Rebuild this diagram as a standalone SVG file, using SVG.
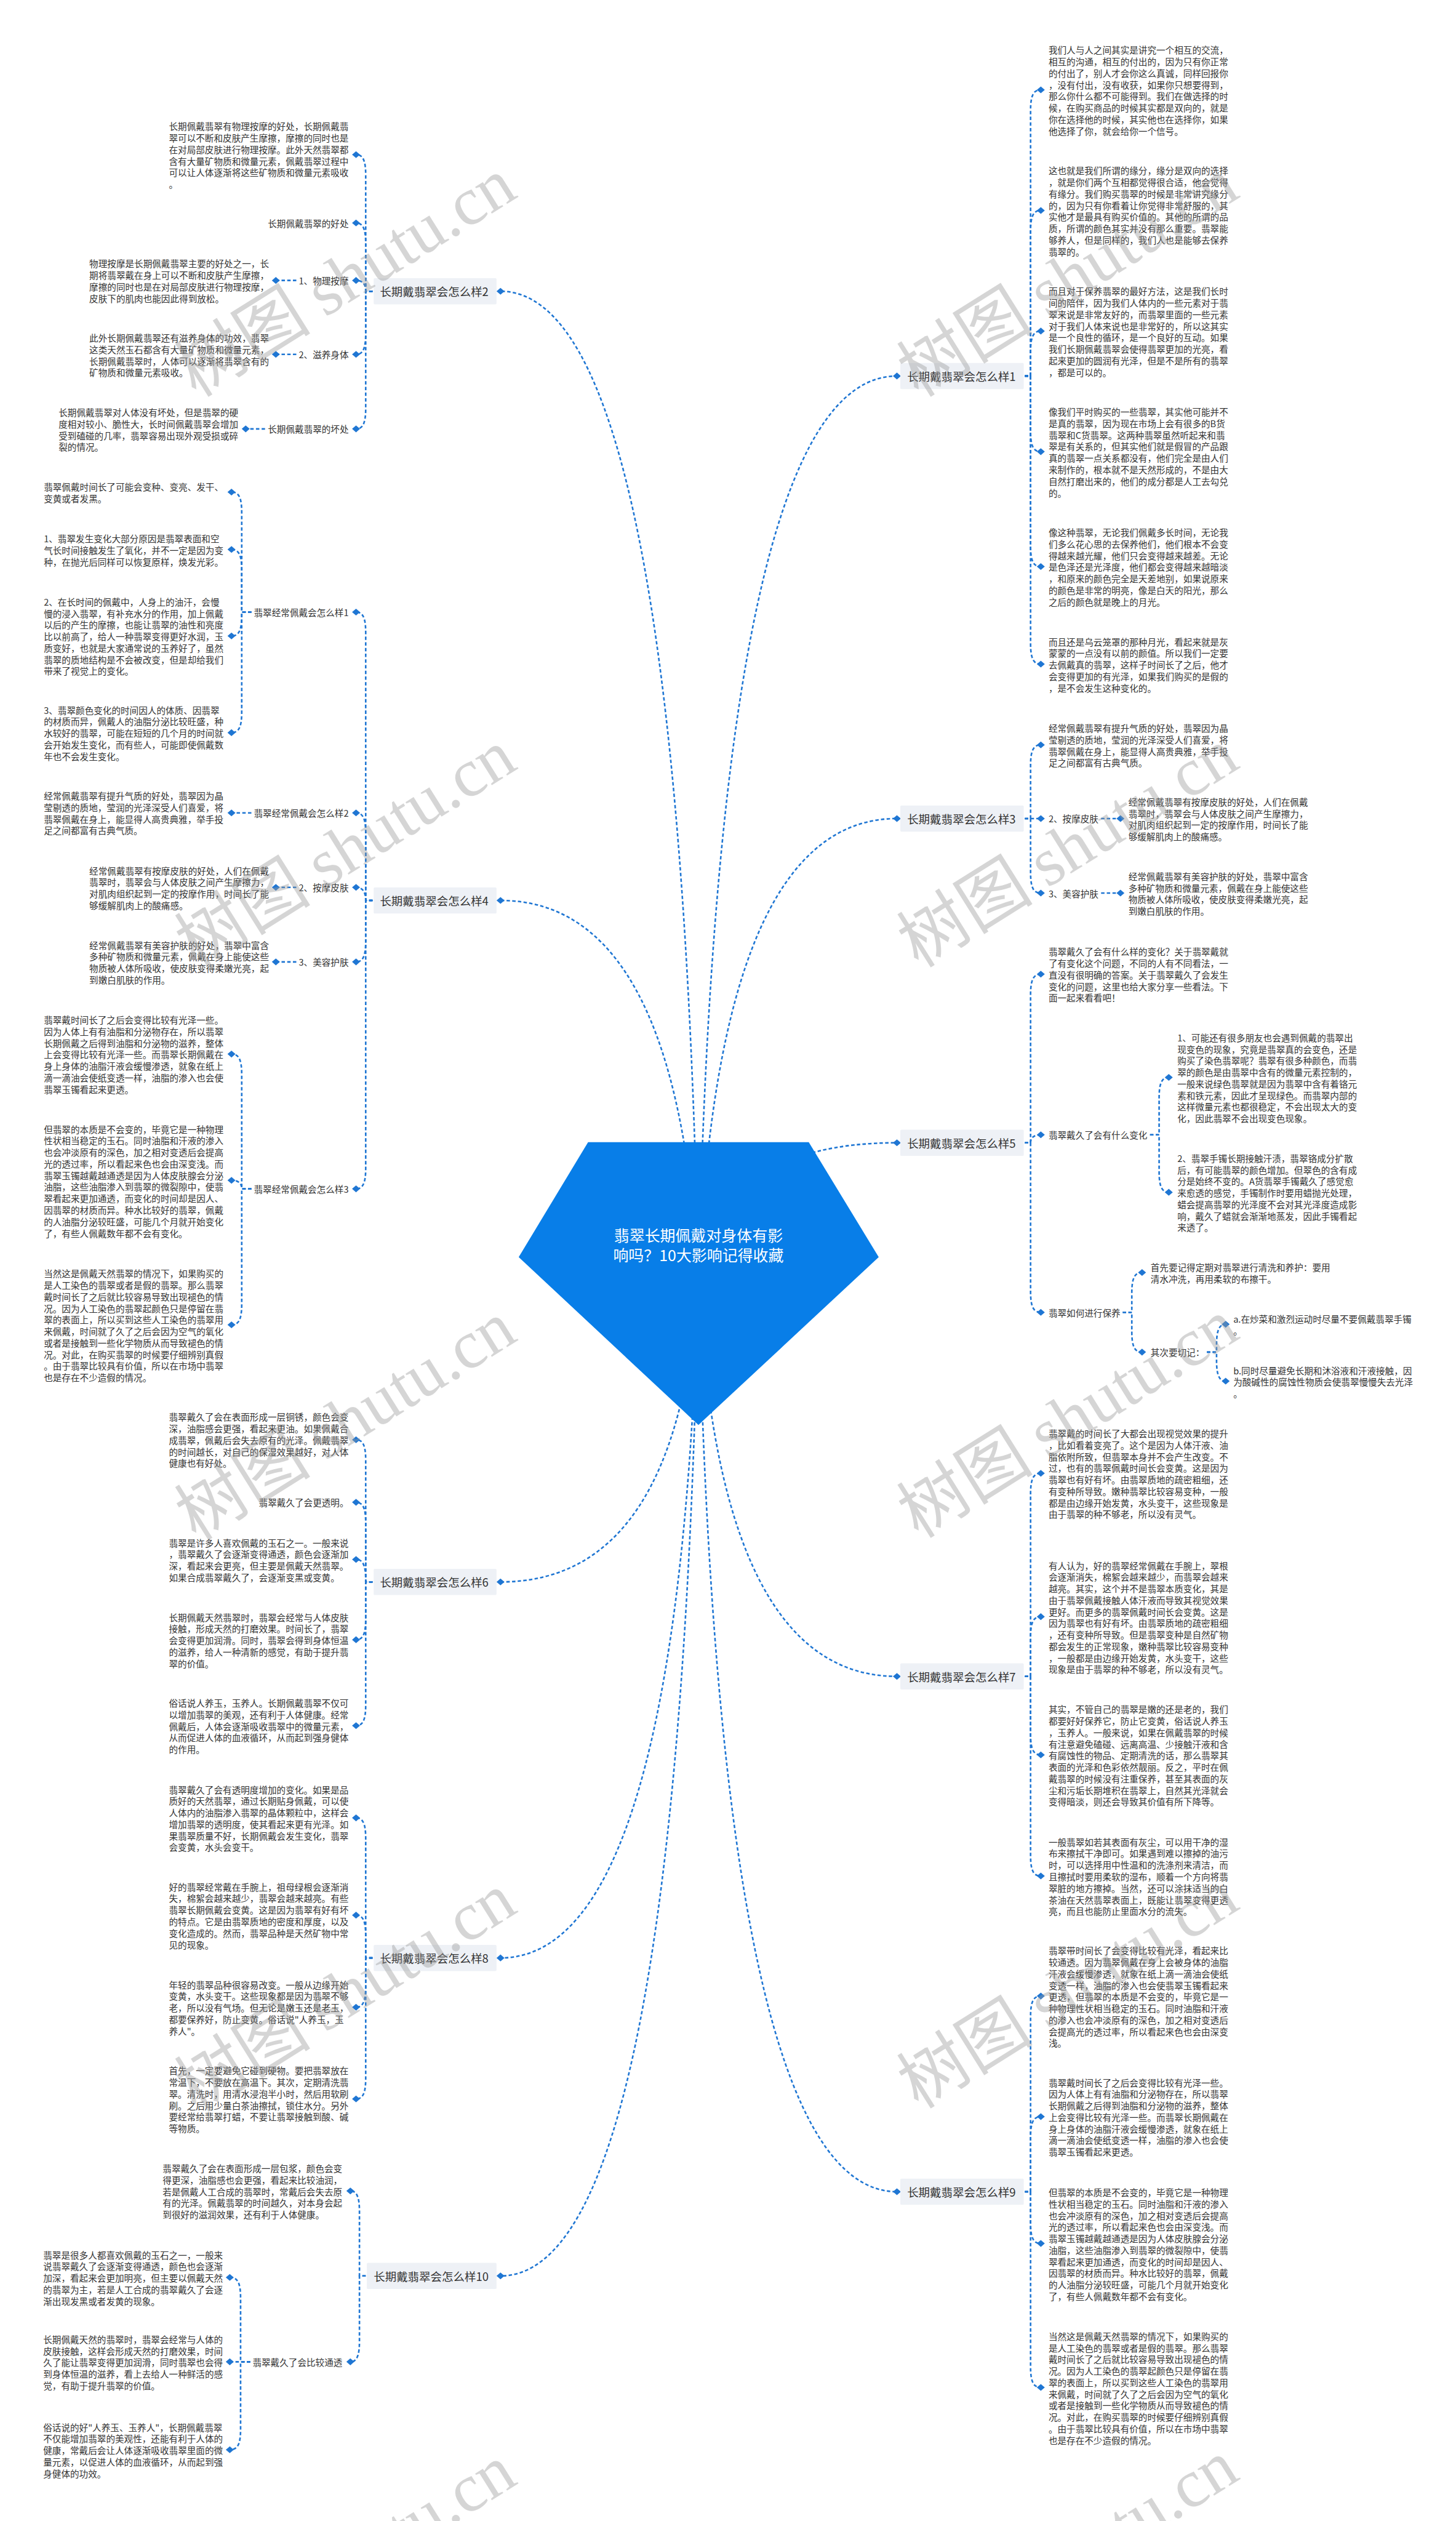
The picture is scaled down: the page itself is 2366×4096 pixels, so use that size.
<svg xmlns="http://www.w3.org/2000/svg" xmlns:xlink="http://www.w3.org/1999/xlink" width="2366" height="4096" viewBox="0 0 2366 4096">
<style>
text{font-family:'Noto Sans CJK SC','Noto Sans',sans-serif;dominant-baseline:central;fill:#333}
.t{font-size:15.8px}
.l1{font-size:20px}
.e{text-anchor:end}
.root{font-size:27px;fill:#fff;text-anchor:middle}
.c{fill:none;stroke:#1f76d3;stroke-width:2.8;stroke-dasharray:6 4}
.bg{fill:#eef1f6}
.wm{fill:#999;opacity:.4;font-size:120px;dominant-baseline:alphabetic}
</style>
<defs><path id="dm" d="M-7 0L0-6L7 0L0 6Z" fill="#1f76d3"/></defs>
<rect width="2366" height="4096" fill="#fff"/>
<g transform="scale(0.92422)">
<g id="connectors">
<path class="c" d="M1228 2250Q1263 661 1577 661"/>
<path class="c" d="M1228 2250Q1193 512 880 512"/>
<path class="c" d="M1228 2250Q1263 1439 1577 1439"/>
<path class="c" d="M1228 2250Q1193 1583 880 1583"/>
<path class="c" d="M1228 2250Q1263 2009 1577 2009"/>
<path class="c" d="M1228 2250Q1193 2781 880 2781"/>
<path class="c" d="M1228 2250Q1263 2947 1577 2947"/>
<path class="c" d="M1228 2250Q1193 3442 880 3442"/>
<path class="c" d="M1228 2250Q1263 3853 1577 3853"/>
<path class="c" d="M1228 2250Q1193 4001 880 4001"/>
<path class="c" d="M1802 661H1812V194C1812 166 1818 158 1830 158"/>
<path class="c" d="M1802 661H1812V406C1812 378 1818 370 1830 370"/>
<path class="c" d="M1802 661H1812V618C1812 590 1818 582 1830 582"/>
<path class="c" d="M1802 661H1812V758C1812 786 1818 794 1830 794"/>
<path class="c" d="M1802 661H1812V960C1812 988 1818 996 1830 996"/>
<path class="c" d="M1802 661H1812V1131.5C1812 1159.5 1818 1167.5 1830 1167.5"/>
<path class="c" d="M1802 1439H1812V1345.5C1812 1317.5 1818 1309.5 1830 1309.5"/>
<path class="c" d="M1802 1439H1830"/>
<path class="c" d="M1802 1439H1812V1534C1812 1562 1818 1570 1830 1570"/>
<path class="c" d="M1936 1439H1970"/>
<path class="c" d="M1936 1570H1970"/>
<path class="c" d="M1802 2009H1812V1748.6C1812 1720.6 1818 1712.6 1830 1712.6"/>
<path class="c" d="M1802 2009H1812Q1812 1995 1830 1995"/>
<path class="c" d="M1802 2009H1812V2271C1812 2299 1818 2307 1830 2307"/>
<path class="c" d="M2022 1995H2038V1930C2038 1902 2044 1894 2055 1894"/>
<path class="c" d="M2022 1995H2038V2060C2038 2088 2044 2096 2055 2096"/>
<path class="c" d="M1974 2307H1990V2273C1990 2245 1996 2237 2008 2237"/>
<path class="c" d="M1974 2307H1990V2341C1990 2369 1996 2377 2008 2377"/>
<path class="c" d="M2122 2377H2139V2364C2139 2336 2145 2328 2155 2328"/>
<path class="c" d="M2122 2377H2139V2392C2139 2420 2145 2428 2155 2428"/>
<path class="c" d="M1802 2947H1812V2626C1812 2598 1818 2590 1830 2590"/>
<path class="c" d="M1802 2947H1812V2878C1812 2850 1818 2842 1830 2842"/>
<path class="c" d="M1802 2947H1812V3049C1812 3077 1818 3085 1830 3085"/>
<path class="c" d="M1802 2947H1812V3262C1812 3290 1818 3298 1830 3298"/>
<path class="c" d="M1802 3853H1812V3545C1812 3517 1818 3509 1830 3509"/>
<path class="c" d="M1802 3853H1812V3757C1812 3729 1818 3721 1830 3721"/>
<path class="c" d="M1802 3853H1812V3908C1812 3936 1818 3944 1830 3944"/>
<path class="c" d="M1802 3853H1812V4161C1812 4189 1818 4197 1830 4197"/>
<path class="c" d="M655 512H643V307.8C643 279.8 637 271.8 626 271.8"/>
<path class="c" d="M655 512H643V428C643 400 637 392 626 392"/>
<path class="c" d="M655 512H643Q643 493 626 493"/>
<path class="c" d="M655 512H643V587C643 615 637 623 626 623"/>
<path class="c" d="M655 512H643V718C643 746 637 754 626 754"/>
<path class="c" d="M521 493H485"/>
<path class="c" d="M521 623H485"/>
<path class="c" d="M466 754H432"/>
<path class="c" d="M655 1583H643V1112C643 1084 637 1076 626 1076"/>
<path class="c" d="M655 1583H643V1465C643 1437 637 1429 626 1429"/>
<path class="c" d="M655 1583H643Q643 1560 626 1560"/>
<path class="c" d="M655 1583H643V1655C643 1683 637 1691 626 1691"/>
<path class="c" d="M655 1583H643V2054C643 2082 637 2090 626 2090"/>
<path class="c" d="M442 1076H425V901C425 873 419 865 407 865"/>
<path class="c" d="M442 1076H425V1002C425 974 419 966 407 966"/>
<path class="c" d="M442 1076H425V1082C425 1110 419 1118 407 1118"/>
<path class="c" d="M442 1076H425V1252C425 1280 419 1288 407 1288"/>
<path class="c" d="M442 1429H407"/>
<path class="c" d="M521 1560H485"/>
<path class="c" d="M521 1691H485"/>
<path class="c" d="M442 2090H425V1889C425 1861 419 1853 407 1853"/>
<path class="c" d="M442 2090H425Q425 2075 407 2075"/>
<path class="c" d="M442 2090H425V2293C425 2321 419 2329 407 2329"/>
<path class="c" d="M655 2781H643V2567C643 2539 637 2531 626 2531"/>
<path class="c" d="M655 2781H643V2677C643 2649 637 2641 626 2641"/>
<path class="c" d="M655 2781H643V2777.5C643 2749.5 637 2741.5 626 2741.5"/>
<path class="c" d="M655 2781H643V2846.6C643 2874.6 637 2882.6 626 2882.6"/>
<path class="c" d="M655 2781H643V2997.6C643 3025.6 637 3033.6 626 3033.6"/>
<path class="c" d="M655 3442H643V3231.8C643 3203.8 637 3195.8 626 3195.8"/>
<path class="c" d="M655 3442H643V3402.8C643 3374.8 637 3366.8 626 3366.8"/>
<path class="c" d="M655 3442H643V3492.6C643 3520.6 637 3528.6 626 3528.6"/>
<path class="c" d="M655 3442H643V3653.8C643 3681.8 637 3689.8 626 3689.8"/>
<path class="c" d="M643 4001H632V3887.6C632 3859.6 626 3851.6 616 3851.6"/>
<path class="c" d="M643 4001H632V4116C632 4144 626 4152 616 4152"/>
<path class="c" d="M440 4152H423V4039.6C423 4011.6 417 4003.6 404 4003.6"/>
<path class="c" d="M440 4152H404"/>
<path class="c" d="M440 4152H423V4270.6C423 4298.6 417 4306.6 404 4306.6"/>
<use href="#dm" x="1577" y="661"/><use href="#dm" x="880" y="512"/><use href="#dm" x="1577" y="1439"/><use href="#dm" x="880" y="1583"/><use href="#dm" x="1577" y="2009"/><use href="#dm" x="880" y="2781"/><use href="#dm" x="1577" y="2947"/><use href="#dm" x="880" y="3442"/><use href="#dm" x="1577" y="3853"/><use href="#dm" x="880" y="4001"/>
<use href="#dm" x="1830" y="158"/><use href="#dm" x="1830" y="370"/><use href="#dm" x="1830" y="582"/><use href="#dm" x="1830" y="794"/><use href="#dm" x="1830" y="996"/><use href="#dm" x="1830" y="1167.5"/>
<use href="#dm" x="1830" y="1309.5"/><use href="#dm" x="1830" y="1439"/><use href="#dm" x="1830" y="1570"/><use href="#dm" x="1970" y="1439"/><use href="#dm" x="1970" y="1570"/>
<use href="#dm" x="1830" y="1712.6"/><use href="#dm" x="1830" y="1995"/><use href="#dm" x="1830" y="2307"/><use href="#dm" x="2055" y="1894"/><use href="#dm" x="2055" y="2096"/><use href="#dm" x="2008" y="2237"/><use href="#dm" x="2008" y="2377"/><use href="#dm" x="2155" y="2328"/><use href="#dm" x="2155" y="2428"/>
<use href="#dm" x="1830" y="2590"/><use href="#dm" x="1830" y="2842"/><use href="#dm" x="1830" y="3085"/><use href="#dm" x="1830" y="3298"/>
<use href="#dm" x="1830" y="3509"/><use href="#dm" x="1830" y="3721"/><use href="#dm" x="1830" y="3944"/><use href="#dm" x="1830" y="4197"/>
<use href="#dm" x="626" y="271.8"/><use href="#dm" x="626" y="392"/><use href="#dm" x="626" y="493"/><use href="#dm" x="626" y="623"/><use href="#dm" x="626" y="754"/><use href="#dm" x="485" y="493"/><use href="#dm" x="485" y="623"/><use href="#dm" x="432" y="754"/>
<use href="#dm" x="626" y="1076"/><use href="#dm" x="626" y="1429"/><use href="#dm" x="626" y="1560"/><use href="#dm" x="626" y="1691"/><use href="#dm" x="626" y="2090"/><use href="#dm" x="407" y="865"/><use href="#dm" x="407" y="966"/><use href="#dm" x="407" y="1118"/><use href="#dm" x="407" y="1288"/><use href="#dm" x="407" y="1429"/><use href="#dm" x="485" y="1560"/><use href="#dm" x="485" y="1691"/><use href="#dm" x="407" y="1853"/><use href="#dm" x="407" y="2075"/><use href="#dm" x="407" y="2329"/>
<use href="#dm" x="626" y="2531"/><use href="#dm" x="626" y="2641"/><use href="#dm" x="626" y="2741.5"/><use href="#dm" x="626" y="2882.6"/><use href="#dm" x="626" y="3033.6"/>
<use href="#dm" x="626" y="3195.8"/><use href="#dm" x="626" y="3366.8"/><use href="#dm" x="626" y="3528.6"/><use href="#dm" x="626" y="3689.8"/>
<use href="#dm" x="616" y="3851.6"/><use href="#dm" x="616" y="4152"/><use href="#dm" x="404" y="4003.6"/><use href="#dm" x="404" y="4152"/><use href="#dm" x="404" y="4306.6"/>
</g>
<g id="root">
<path d="M1034 2008H1422L1545 2210L1228 2505L912 2210Z" fill="#087ee8"/>
<text class="root" x="1228" y="2170">翡翠长期佩戴对身体有影</text>
<text class="root" x="1228" y="2205">响吗？10大影响记得收藏</text>
</g>
<g id="b1"><rect class="bg" x="1583" y="638" width="217" height="46" rx="2"/><text class="l1" x="1595" y="661">长期戴翡翠会怎么样1</text></g>
<g id="b2"><rect class="bg" x="657" y="489" width="216" height="46" rx="2"/><text class="l1" x="668" y="512">长期戴翡翠会怎么样2</text></g>
<g id="b3"><rect class="bg" x="1583" y="1416" width="217" height="46" rx="2"/><text class="l1" x="1595" y="1439">长期戴翡翠会怎么样3</text></g>
<g id="b4"><rect class="bg" x="657" y="1560" width="216" height="46" rx="2"/><text class="l1" x="668" y="1583">长期戴翡翠会怎么样4</text></g>
<g id="b5"><rect class="bg" x="1583" y="1986" width="217" height="46" rx="2"/><text class="l1" x="1595" y="2009">长期戴翡翠会怎么样5</text></g>
<g id="b6"><rect class="bg" x="657" y="2758" width="216" height="46" rx="2"/><text class="l1" x="668" y="2781">长期戴翡翠会怎么样6</text></g>
<g id="b7"><rect class="bg" x="1583" y="2924" width="217" height="46" rx="2"/><text class="l1" x="1595" y="2947">长期戴翡翠会怎么样7</text></g>
<g id="b8"><rect class="bg" x="657" y="3419" width="216" height="46" rx="2"/><text class="l1" x="668" y="3442">长期戴翡翠会怎么样8</text></g>
<g id="b9"><rect class="bg" x="1583" y="3830" width="217" height="46" rx="2"/><text class="l1" x="1595" y="3853">长期戴翡翠会怎么样9</text></g>
<g id="b10"><rect class="bg" x="645" y="3978" width="228" height="46" rx="2"/><text class="l1" x="657" y="4001">长期戴翡翠会怎么样10</text></g>

<g id="n1a"><text class="t" x="1843.6" y="87"><tspan x="1843.6">我们人与人之间其实是讲究一个相互的交流，</tspan><tspan x="1843.6" dy="20.3">相互的沟通，相互的付出的，因为只有你正常</tspan><tspan x="1843.6" dy="20.3">的付出了，别人才会你这么真诚，同样回报你</tspan><tspan x="1843.6" dy="20.3">，没有付出，没有收获，如果你只想要得到，</tspan><tspan x="1843.6" dy="20.3">那么你什么都不可能得到。我们在做选择的时</tspan><tspan x="1843.6" dy="20.3">候，在购买商品的时候其实都是双向的，就是</tspan><tspan x="1843.6" dy="20.3">你在选择他的时候，其实他也在选择你，如果</tspan><tspan x="1843.6" dy="20.3">他选择了你，就会给你一个信号。</tspan></text></g>
<g id="n1b"><text class="t" x="1843.6" y="299"><tspan x="1843.6">这也就是我们所谓的缘分，缘分是双向的选择</tspan><tspan x="1843.6" dy="20.3">，就是你们两个互相都觉得很合适，他会觉得</tspan><tspan x="1843.6" dy="20.3">有缘分。我们购买翡翠的时候是非常讲究缘分</tspan><tspan x="1843.6" dy="20.3">的，因为只有你看着让你觉得非常舒服的，其</tspan><tspan x="1843.6" dy="20.3">实他才是最具有购买价值的。其他的所谓的品</tspan><tspan x="1843.6" dy="20.3">质，所谓的颜色其实并没有那么重要。翡翠能</tspan><tspan x="1843.6" dy="20.3">够养人，但是同样的，我们人也是能够去保养</tspan><tspan x="1843.6" dy="20.3">翡翠的。</tspan></text></g>
<g id="n1c"><text class="t" x="1843.6" y="511"><tspan x="1843.6">而且对于保养翡翠的最好方法，这是我们长时</tspan><tspan x="1843.6" dy="20.3">间的陪伴，因为我们人体内的一些元素对于翡</tspan><tspan x="1843.6" dy="20.3">翠来说是非常友好的，而翡翠里面的一些元素</tspan><tspan x="1843.6" dy="20.3">对于我们人体来说也是非常好的，所以这其实</tspan><tspan x="1843.6" dy="20.3">是一个良性的循环，是一个良好的互动。如果</tspan><tspan x="1843.6" dy="20.3">我们长期佩戴翡翠会使得翡翠更加的光亮，看</tspan><tspan x="1843.6" dy="20.3">起来更加的圆润有光泽，但是不是所有的翡翠</tspan><tspan x="1843.6" dy="20.3">，都是可以的。</tspan></text></g>
<g id="n1d"><text class="t" x="1843.6" y="723"><tspan x="1843.6">像我们平时购买的一些翡翠，其实他可能并不</tspan><tspan x="1843.6" dy="20.3">是真的翡翠，因为现在市场上会有很多的B货</tspan><tspan x="1843.6" dy="20.3">翡翠和C货翡翠。这两种翡翠虽然听起来和翡</tspan><tspan x="1843.6" dy="20.3">翠是有关系的，但其实他们就是假冒的产品跟</tspan><tspan x="1843.6" dy="20.3">真的翡翠一点关系都没有，他们完全是由人们</tspan><tspan x="1843.6" dy="20.3">来制作的，根本就不是天然形成的，不是由大</tspan><tspan x="1843.6" dy="20.3">自然打磨出来的，他们的成分都是人工去勾兑</tspan><tspan x="1843.6" dy="20.3">的。</tspan></text></g>
<g id="n1e"><text class="t" x="1843.6" y="935"><tspan x="1843.6">像这种翡翠，无论我们佩戴多长时间，无论我</tspan><tspan x="1843.6" dy="20.3">们多么花心思的去保养他们，他们根本不会变</tspan><tspan x="1843.6" dy="20.3">得越来越光耀，他们只会变得越来越差。无论</tspan><tspan x="1843.6" dy="20.3">是色泽还是光泽度，他们都会变得越来越暗淡</tspan><tspan x="1843.6" dy="20.3">，和原来的颜色完全是天差地别，如果说原来</tspan><tspan x="1843.6" dy="20.3">的颜色是非常的明亮，像是白天的阳光，那么</tspan><tspan x="1843.6" dy="20.3">之后的颜色就是晚上的月光。</tspan></text></g>
<g id="n1f"><text class="t" x="1843.6" y="1127"><tspan x="1843.6">而且还是乌云笼罩的那种月光，看起来就是灰</tspan><tspan x="1843.6" dy="20.3">蒙蒙的一点没有以前的颜值。所以我们一定要</tspan><tspan x="1843.6" dy="20.3">去佩戴真的翡翠，这样子时间长了之后，他才</tspan><tspan x="1843.6" dy="20.3">会变得更加的有光泽，如果我们购买的是假的</tspan><tspan x="1843.6" dy="20.3">，是不会发生这种变化的。</tspan></text></g>

<g id="n3a"><text class="t" x="1843.6" y="1279"><tspan x="1843.6">经常佩戴翡翠有提升气质的好处，翡翠因为晶</tspan><tspan x="1843.6" dy="20.3">莹剔透的质地，莹润的光泽深受人们喜爱，将</tspan><tspan x="1843.6" dy="20.3">翡翠佩戴在身上，能显得人高贵典雅，举手投</tspan><tspan x="1843.6" dy="20.3">足之间都富有古典气质。</tspan></text></g>
<g id="n3b"><text class="t" x="1843.6" y="1439">2、按摩皮肤</text></g>
<g id="n3b1"><text class="t" x="1984" y="1408.5"><tspan x="1984">经常佩戴翡翠有按摩皮肤的好处，人们在佩戴</tspan><tspan x="1984" dy="20.3">翡翠时，翡翠会与人体皮肤之间产生摩擦力，</tspan><tspan x="1984" dy="20.3">对肌肉组织起到一定的按摩作用，时间长了能</tspan><tspan x="1984" dy="20.3">够缓解肌肉上的酸痛感。</tspan></text></g>
<g id="n3c"><text class="t" x="1843.6" y="1570">3、美容护肤</text></g>
<g id="n3c1"><text class="t" x="1984" y="1539.5"><tspan x="1984">经常佩戴翡翠有美容护肤的好处，翡翠中富含</tspan><tspan x="1984" dy="20.3">多种矿物质和微量元素，佩戴在身上能使这些</tspan><tspan x="1984" dy="20.3">物质被人体所吸收，使皮肤变得柔嫩光亮，起</tspan><tspan x="1984" dy="20.3">到嫩白肌肤的作用。</tspan></text></g>

<g id="n5a"><text class="t" x="1843.6" y="1672"><tspan x="1843.6">翡翠戴久了会有什么样的变化？关于翡翠戴就</tspan><tspan x="1843.6" dy="20.3">了有变化这个问题，不同的人有不同看法，一</tspan><tspan x="1843.6" dy="20.3">直没有很明确的答案。关于翡翠戴久了会发生</tspan><tspan x="1843.6" dy="20.3">变化的问题，这里也给大家分享一些看法。下</tspan><tspan x="1843.6" dy="20.3">面一起来看看吧！</tspan></text></g>
<g id="n5b"><text class="t" x="1843.6" y="1995">翡翠戴久了会有什么变化</text></g>
<g id="n5b1"><text class="t" x="2070" y="1823"><tspan x="2070">1、可能还有很多朋友也会遇到佩戴的翡翠出</tspan><tspan x="2070" dy="20.3">现变色的现象，究竟是翡翠真的会变色，还是</tspan><tspan x="2070" dy="20.3">购买了染色翡翠呢？翡翠有很多种颜色，而翡</tspan><tspan x="2070" dy="20.3">翠的颜色是由翡翠中含有的微量元素控制的，</tspan><tspan x="2070" dy="20.3">一般来说绿色翡翠就是因为翡翠中含有着铬元</tspan><tspan x="2070" dy="20.3">素和铁元素，因此才呈现绿色。而翡翠内部的</tspan><tspan x="2070" dy="20.3">这样微量元素也都很稳定，不会出现太大的变</tspan><tspan x="2070" dy="20.3">化，因此翡翠不会出现变色现象。</tspan></text></g>
<g id="n5b2"><text class="t" x="2070" y="2035"><tspan x="2070">2、翡翠手镯长期接触汗渍，翡翠铬成分扩散</tspan><tspan x="2070" dy="20.3">后，有可能翡翠的颜色增加。但翠色的含有成</tspan><tspan x="2070" dy="20.3">分是始终不变的。A货翡翠手镯戴久了感觉愈</tspan><tspan x="2070" dy="20.3">来愈透的感觉，手镯制作时要用蜡抛光处理，</tspan><tspan x="2070" dy="20.3">蜡会提高翡翠的光泽度不会对其光泽度造成影</tspan><tspan x="2070" dy="20.3">响，戴久了蜡就会渐渐地蒸发，因此手镯看起</tspan><tspan x="2070" dy="20.3">来透了。</tspan></text></g>
<g id="n5c"><text class="t" x="1843.6" y="2307">翡翠如何进行保养</text></g>
<g id="n5c1"><text class="t" x="2023" y="2227"><tspan x="2023">首先要记得定期对翡翠进行清洗和养护：要用</tspan><tspan x="2023" dy="20.3">清水冲洗，再用柔软的布擦干。</tspan></text></g>
<g id="n5c2"><text class="t" x="2023" y="2377">其次要切记：</text></g>
<g id="n5c2a"><text class="t" x="2168.5" y="2318"><tspan x="2168.5">a.在炒菜和激烈运动时尽量不要佩戴翡翠手镯</tspan><tspan x="2168.5" dy="20.3">。</tspan></text></g>
<g id="n5c2b"><text class="t" x="2168.5" y="2408"><tspan x="2168.5">b.同时尽量避免长期和沐浴液和汗液接触，因</tspan><tspan x="2168.5" dy="20.3">为酸碱性的腐蚀性物质会使翡翠慢慢失去光泽</tspan><tspan x="2168.5" dy="20.3">。</tspan></text></g>

<g id="n7a"><text class="t" x="1843.6" y="2519"><tspan x="1843.6">翡翠戴的时间长了大都会出现视觉效果的提升</tspan><tspan x="1843.6" dy="20.3">，比如看着变亮了。这个是因为人体汗液、油</tspan><tspan x="1843.6" dy="20.3">脂依附所致，但翡翠本身并不会产生改变。不</tspan><tspan x="1843.6" dy="20.3">过，也有的翡翠佩戴时间长会变黄。这是因为</tspan><tspan x="1843.6" dy="20.3">翡翠也有好有坏。由翡翠质地的疏密粗细，还</tspan><tspan x="1843.6" dy="20.3">有变种所导致。嫩种翡翠比较容易变种，一般</tspan><tspan x="1843.6" dy="20.3">都是由边缘开始发黄，水头变干，这些现象是</tspan><tspan x="1843.6" dy="20.3">由于翡翠的种不够老，所以没有灵气。</tspan></text></g>
<g id="n7b"><text class="t" x="1843.6" y="2751"><tspan x="1843.6">有人认为，好的翡翠经常佩戴在手腕上，翠根</tspan><tspan x="1843.6" dy="20.3">会逐渐消失，棉絮会越来越少，而翡翠会越来</tspan><tspan x="1843.6" dy="20.3">越亮。其实，这个并不是翡翠本质变化，其是</tspan><tspan x="1843.6" dy="20.3">由于翡翠佩戴接触人体汗液而导致其视觉效果</tspan><tspan x="1843.6" dy="20.3">更好。而更多的翡翠佩戴时间长会变黄。这是</tspan><tspan x="1843.6" dy="20.3">因为翡翠也有好有坏。由翡翠质地的疏密粗细</tspan><tspan x="1843.6" dy="20.3">，还有变种所导致。但是翡翠变种是自然矿物</tspan><tspan x="1843.6" dy="20.3">都会发生的正常现象，嫩种翡翠比较容易变种</tspan><tspan x="1843.6" dy="20.3">，一般都是由边缘开始发黄，水头变干，这些</tspan><tspan x="1843.6" dy="20.3">现象是由于翡翠的种不够老，所以没有灵气。</tspan></text></g>
<g id="n7c"><text class="t" x="1843.6" y="3004"><tspan x="1843.6">其实，不管自己的翡翠是嫩的还是老的，我们</tspan><tspan x="1843.6" dy="20.3">都要好好保养它，防止它变黄，俗话说人养玉</tspan><tspan x="1843.6" dy="20.3">，玉养人。一般来说，如果在佩戴翡翠的时候</tspan><tspan x="1843.6" dy="20.3">有注意避免磕碰、远离高温、少接触汗液和含</tspan><tspan x="1843.6" dy="20.3">有腐蚀性的物品、定期清洗的话，那么翡翠其</tspan><tspan x="1843.6" dy="20.3">表面的光泽和色彩依然靓丽。反之，平时在佩</tspan><tspan x="1843.6" dy="20.3">戴翡翠的时候没有注重保养，甚至其表面的灰</tspan><tspan x="1843.6" dy="20.3">尘和污垢长期堆积在翡翠上，自然其光泽就会</tspan><tspan x="1843.6" dy="20.3">变得暗淡，则还会导致其价值有所下降等。</tspan></text></g>
<g id="n7d"><text class="t" x="1843.6" y="3237"><tspan x="1843.6">一般翡翠如若其表面有灰尘，可以用干净的湿</tspan><tspan x="1843.6" dy="20.3">布来擦拭干净即可。如果遇到难以擦掉的油污</tspan><tspan x="1843.6" dy="20.3">时，可以选择用中性温和的洗涤剂来清洁，而</tspan><tspan x="1843.6" dy="20.3">且擦拭时要用柔软的湿布，顺着一个方向将翡</tspan><tspan x="1843.6" dy="20.3">翠脏的地方擦掉。当然，还可以涂抹适当的白</tspan><tspan x="1843.6" dy="20.3">茶油在天然翡翠表面上，既能让翡翠变得更透</tspan><tspan x="1843.6" dy="20.3">亮，而且也能防止里面水分的流失。</tspan></text></g>

<g id="n9a"><text class="t" x="1843.6" y="3428"><tspan x="1843.6">翡翠带时间长了会变得比较有光泽，看起来比</tspan><tspan x="1843.6" dy="20.3">较通透。因为翡翠佩戴在身上会被身体的油脂</tspan><tspan x="1843.6" dy="20.3">汗液会缓慢渗透，就象在纸上滴一滴油会使纸</tspan><tspan x="1843.6" dy="20.3">变透一样，油脂的渗入也会使翡翠玉镯看起来</tspan><tspan x="1843.6" dy="20.3">更透，但翡翠的本质是不会变的，毕竟它是一</tspan><tspan x="1843.6" dy="20.3">种物理性状相当稳定的玉石。同时油脂和汗液</tspan><tspan x="1843.6" dy="20.3">的渗入也会冲淡原有的深色，加之相对变透后</tspan><tspan x="1843.6" dy="20.3">会提高光的透过率，所以看起来色也会由深变</tspan><tspan x="1843.6" dy="20.3">浅。</tspan></text></g>
<g id="n9b"><text class="t" x="1843.6" y="3660"><tspan x="1843.6">翡翠戴时间长了之后会变得比较有光泽一些。</tspan><tspan x="1843.6" dy="20.3">因为人体上有有油脂和分泌物存在，所以翡翠</tspan><tspan x="1843.6" dy="20.3">长期佩戴之后得到油脂和分泌物的滋养，整体</tspan><tspan x="1843.6" dy="20.3">上会变得比较有光泽一些。而翡翠长期佩戴在</tspan><tspan x="1843.6" dy="20.3">身上身体的油脂汗液会缓慢渗透，就象在纸上</tspan><tspan x="1843.6" dy="20.3">滴一滴油会使纸变透一样，油脂的渗入也会使</tspan><tspan x="1843.6" dy="20.3">翡翠玉镯看起来更透。</tspan></text></g>
<g id="n9c"><text class="t" x="1843.6" y="3853"><tspan x="1843.6">但翡翠的本质是不会变的，毕竟它是一种物理</tspan><tspan x="1843.6" dy="20.3">性状相当稳定的玉石。同时油脂和汗液的渗入</tspan><tspan x="1843.6" dy="20.3">也会冲淡原有的深色，加之相对变透后会提高</tspan><tspan x="1843.6" dy="20.3">光的透过率，所以看起来色也会由深变浅。而</tspan><tspan x="1843.6" dy="20.3">翡翠玉镯越戴越通透是因为人体皮肤腺会分泌</tspan><tspan x="1843.6" dy="20.3">油脂，这些油脂渗入到翡翠的微裂隙中，使翡</tspan><tspan x="1843.6" dy="20.3">翠看起来更加通透，而变化的时间却是因人、</tspan><tspan x="1843.6" dy="20.3">因翡翠的材质而异。种水比较好的翡翠，佩戴</tspan><tspan x="1843.6" dy="20.3">的人油脂分泌较旺盛，可能几个月就开始变化</tspan><tspan x="1843.6" dy="20.3">了，有些人佩戴数年都不会有变化。</tspan></text></g>
<g id="n9d"><text class="t" x="1843.6" y="4106"><tspan x="1843.6">当然这是佩戴天然翡翠的情况下，如果购买的</tspan><tspan x="1843.6" dy="20.3">是人工染色的翡翠或者是假的翡翠。那么翡翠</tspan><tspan x="1843.6" dy="20.3">戴时间长了之后就比较容易导致出现褪色的情</tspan><tspan x="1843.6" dy="20.3">况。因为人工染色的翡翠起颜色只是停留在翡</tspan><tspan x="1843.6" dy="20.3">翠的表面上，所以买到这些人工染色的翡翠用</tspan><tspan x="1843.6" dy="20.3">来佩戴，时间就了久了之后会因为空气的氧化</tspan><tspan x="1843.6" dy="20.3">或者是接触到一些化学物质从而导致褪色的情</tspan><tspan x="1843.6" dy="20.3">况。对此，在购买翡翠的时候要仔细辨别真假</tspan><tspan x="1843.6" dy="20.3">。由于翡翠比较具有价值，所以在市场中翡翠</tspan><tspan x="1843.6" dy="20.3">也是存在不少造假的情况。</tspan></text></g>

<g id="n2a"><text class="t" x="297" y="221"><tspan x="297">长期佩戴翡翠有物理按摩的好处，长期佩戴翡</tspan><tspan x="297" dy="20.3">翠可以不断和皮肤产生摩擦，摩擦的同时也是</tspan><tspan x="297" dy="20.3">在对局部皮肤进行物理按摩。此外天然翡翠都</tspan><tspan x="297" dy="20.3">含有大量矿物质和微量元素，佩戴翡翠过程中</tspan><tspan x="297" dy="20.3">可以让人体逐渐将这些矿物质和微量元素吸收</tspan><tspan x="297" dy="20.3">。</tspan></text></g>
<g id="n2b"><text class="t e" x="613" y="392">长期佩戴翡翠的好处</text></g>
<g id="n2c"><text class="t e" x="613" y="493">1、物理按摩</text></g>
<g id="n2c1"><text class="t" x="157" y="462.5"><tspan x="157">物理按摩是长期佩戴翡翠主要的好处之一，长</tspan><tspan x="157" dy="20.3">期将翡翠戴在身上可以不断和皮肤产生摩擦，</tspan><tspan x="157" dy="20.3">摩擦的同时也是在对局部皮肤进行物理按摩，</tspan><tspan x="157" dy="20.3">皮肤下的肌肉也能因此得到放松。</tspan></text></g>
<g id="n2d"><text class="t e" x="613" y="623">2、滋养身体</text></g>
<g id="n2d1"><text class="t" x="157" y="593"><tspan x="157">此外长期佩戴翡翠还有滋养身体的功效，翡翠</tspan><tspan x="157" dy="20.3">这类天然玉石都含有大量矿物质和微量元素，</tspan><tspan x="157" dy="20.3">长期佩戴翡翠时，人体可以逐渐将翡翠含有的</tspan><tspan x="157" dy="20.3">矿物质和微量元素吸收。</tspan></text></g>
<g id="n2e"><text class="t e" x="613" y="754">长期佩戴翡翠的坏处</text></g>
<g id="n2e1"><text class="t" x="103" y="724"><tspan x="103">长期佩戴翡翠对人体没有坏处，但是翡翠的硬</tspan><tspan x="103" dy="20.3">度相对较小、脆性大，长时间佩戴翡翠会增加</tspan><tspan x="103" dy="20.3">受到磕碰的几率，翡翠容易出现外观受损或碎</tspan><tspan x="103" dy="20.3">裂的情况。</tspan></text></g>

<g id="n4a"><text class="t e" x="613" y="1076">翡翠经常佩戴会怎么样1</text></g>
<g id="n4a1"><text class="t" x="77" y="855"><tspan x="77">翡翠佩戴时间长了可能会变种、变亮、发干、</tspan><tspan x="77" dy="20.3">变黄或者发黑。</tspan></text></g>
<g id="n4a2"><text class="t" x="77" y="946"><tspan x="77">1、翡翠发生变化大部分原因是翡翠表面和空</tspan><tspan x="77" dy="20.3">气长时间接触发生了氧化，并不一定是因为变</tspan><tspan x="77" dy="20.3">种，在抛光后同样可以恢复原样，焕发光彩。</tspan></text></g>
<g id="n4a3"><text class="t" x="77" y="1057"><tspan x="77">2、在长时间的佩戴中，人身上的油汗，会慢</tspan><tspan x="77" dy="20.3">慢的浸入翡翠，有补充水分的作用，加上佩戴</tspan><tspan x="77" dy="20.3">以后的产生的摩擦，也能让翡翠的油性和亮度</tspan><tspan x="77" dy="20.3">比以前高了，给人一种翡翠变得更好水润，玉</tspan><tspan x="77" dy="20.3">质变好，也就是大家通常说的玉养好了，虽然</tspan><tspan x="77" dy="20.3">翡翠的质地结构是不会被改变，但是却给我们</tspan><tspan x="77" dy="20.3">带来了视觉上的变化。</tspan></text></g>
<g id="n4a4"><text class="t" x="77" y="1247"><tspan x="77">3、翡翠颜色变化的时间因人的体质、因翡翠</tspan><tspan x="77" dy="20.3">的材质而异，佩戴人的油脂分泌比较旺盛，种</tspan><tspan x="77" dy="20.3">水较好的翡翠，可能在短短的几个月的时间就</tspan><tspan x="77" dy="20.3">会开始发生变化，而有些人，可能即使佩戴数</tspan><tspan x="77" dy="20.3">年也不会发生变化。</tspan></text></g>
<g id="n4b"><text class="t e" x="613" y="1429">翡翠经常佩戴会怎么样2</text></g>
<g id="n4b1"><text class="t" x="77" y="1398"><tspan x="77">经常佩戴翡翠有提升气质的好处，翡翠因为晶</tspan><tspan x="77" dy="20.3">莹剔透的质地，莹润的光泽深受人们喜爱，将</tspan><tspan x="77" dy="20.3">翡翠佩戴在身上，能显得人高贵典雅，举手投</tspan><tspan x="77" dy="20.3">足之间都富有古典气质。</tspan></text></g>
<g id="n4c"><text class="t e" x="613" y="1560">2、按摩皮肤</text></g>
<g id="n4c1"><text class="t" x="157" y="1529.5"><tspan x="157">经常佩戴翡翠有按摩皮肤的好处，人们在佩戴</tspan><tspan x="157" dy="20.3">翡翠时，翡翠会与人体皮肤之间产生摩擦力，</tspan><tspan x="157" dy="20.3">对肌肉组织起到一定的按摩作用，时间长了能</tspan><tspan x="157" dy="20.3">够缓解肌肉上的酸痛感。</tspan></text></g>
<g id="n4d"><text class="t e" x="613" y="1691">3、美容护肤</text></g>
<g id="n4d1"><text class="t" x="157" y="1660.5"><tspan x="157">经常佩戴翡翠有美容护肤的好处，翡翠中富含</tspan><tspan x="157" dy="20.3">多种矿物质和微量元素，佩戴在身上能使这些</tspan><tspan x="157" dy="20.3">物质被人体所吸收，使皮肤变得柔嫩光亮，起</tspan><tspan x="157" dy="20.3">到嫩白肌肤的作用。</tspan></text></g>
<g id="n4e"><text class="t e" x="613" y="2090">翡翠经常佩戴会怎么样3</text></g>
<g id="n4e1"><text class="t" x="77" y="1792"><tspan x="77">翡翠戴时间长了之后会变得比较有光泽一些。</tspan><tspan x="77" dy="20.3">因为人体上有有油脂和分泌物存在，所以翡翠</tspan><tspan x="77" dy="20.3">长期佩戴之后得到油脂和分泌物的滋养，整体</tspan><tspan x="77" dy="20.3">上会变得比较有光泽一些。而翡翠长期佩戴在</tspan><tspan x="77" dy="20.3">身上身体的油脂汗液会缓慢渗透，就象在纸上</tspan><tspan x="77" dy="20.3">滴一滴油会使纸变透一样，油脂的渗入也会使</tspan><tspan x="77" dy="20.3">翡翠玉镯看起来更透。</tspan></text></g>
<g id="n4e2"><text class="t" x="77" y="1984"><tspan x="77">但翡翠的本质是不会变的，毕竟它是一种物理</tspan><tspan x="77" dy="20.3">性状相当稳定的玉石。同时油脂和汗液的渗入</tspan><tspan x="77" dy="20.3">也会冲淡原有的深色，加之相对变透后会提高</tspan><tspan x="77" dy="20.3">光的透过率，所以看起来色也会由深变浅。而</tspan><tspan x="77" dy="20.3">翡翠玉镯越戴越通透是因为人体皮肤腺会分泌</tspan><tspan x="77" dy="20.3">油脂，这些油脂渗入到翡翠的微裂隙中，使翡</tspan><tspan x="77" dy="20.3">翠看起来更加通透，而变化的时间却是因人、</tspan><tspan x="77" dy="20.3">因翡翠的材质而异。种水比较好的翡翠，佩戴</tspan><tspan x="77" dy="20.3">的人油脂分泌较旺盛，可能几个月就开始变化</tspan><tspan x="77" dy="20.3">了，有些人佩戴数年都不会有变化。</tspan></text></g>
<g id="n4e3"><text class="t" x="77" y="2238"><tspan x="77">当然这是佩戴天然翡翠的情况下，如果购买的</tspan><tspan x="77" dy="20.3">是人工染色的翡翠或者是假的翡翠。那么翡翠</tspan><tspan x="77" dy="20.3">戴时间长了之后就比较容易导致出现褪色的情</tspan><tspan x="77" dy="20.3">况。因为人工染色的翡翠起颜色只是停留在翡</tspan><tspan x="77" dy="20.3">翠的表面上，所以买到这些人工染色的翡翠用</tspan><tspan x="77" dy="20.3">来佩戴，时间就了久了之后会因为空气的氧化</tspan><tspan x="77" dy="20.3">或者是接触到一些化学物质从而导致褪色的情</tspan><tspan x="77" dy="20.3">况。对此，在购买翡翠的时候要仔细辨别真假</tspan><tspan x="77" dy="20.3">。由于翡翠比较具有价值，所以在市场中翡翠</tspan><tspan x="77" dy="20.3">也是存在不少造假的情况。</tspan></text></g>

<g id="n6a"><text class="t" x="297" y="2490"><tspan x="297">翡翠戴久了会在表面形成一层铜锈，颜色会变</tspan><tspan x="297" dy="20.3">深，油脂感会更强，看起来更油。如果佩戴合</tspan><tspan x="297" dy="20.3">成翡翠，佩戴后会失去原有的光泽。佩戴翡翠</tspan><tspan x="297" dy="20.3">的时间越长，对自己的保湿效果越好，对人体</tspan><tspan x="297" dy="20.3">健康也有好处。</tspan></text></g>
<g id="n6b"><text class="t e" x="613" y="2641">翡翠戴久了会更透明。</text></g>
<g id="n6c"><text class="t" x="297" y="2711"><tspan x="297">翡翠是许多人喜欢佩戴的玉石之一。一般来说</tspan><tspan x="297" dy="20.3">，翡翠戴久了会逐渐变得通透，颜色会逐渐加</tspan><tspan x="297" dy="20.3">深，看起来会更亮，但主要是佩戴天然翡翠。</tspan><tspan x="297" dy="20.3">如果合成翡翠戴久了，会逐渐变黑或变黄。</tspan></text></g>
<g id="n6d"><text class="t" x="297" y="2842"><tspan x="297">长期佩戴天然翡翠时，翡翠会经常与人体皮肤</tspan><tspan x="297" dy="20.3">接触，形成天然的打磨效果。时间长了，翡翠</tspan><tspan x="297" dy="20.3">会变得更加润滑。同时，翡翠会得到身体恒温</tspan><tspan x="297" dy="20.3">的滋养，给人一种清新的感觉，有助于提升翡</tspan><tspan x="297" dy="20.3">翠的价值。</tspan></text></g>
<g id="n6e"><text class="t" x="297" y="2993"><tspan x="297">俗话说人养玉，玉养人。长期佩戴翡翠不仅可</tspan><tspan x="297" dy="20.3">以增加翡翠的美观，还有利于人体健康。经常</tspan><tspan x="297" dy="20.3">佩戴后，人体会逐渐吸收翡翠中的微量元素，</tspan><tspan x="297" dy="20.3">从而促进人体的血液循环，从而起到强身健体</tspan><tspan x="297" dy="20.3">的作用。</tspan></text></g>

<g id="n8a"><text class="t" x="297" y="3145"><tspan x="297">翡翠戴久了会有透明度增加的变化。如果是品</tspan><tspan x="297" dy="20.3">质好的天然翡翠，通过长期贴身佩戴，可以使</tspan><tspan x="297" dy="20.3">人体内的油脂渗入翡翠的晶体颗粒中，这样会</tspan><tspan x="297" dy="20.3">增加翡翠的透明度，使其看起来更有光泽。如</tspan><tspan x="297" dy="20.3">果翡翠质量不好，长期佩戴会发生变化，翡翠</tspan><tspan x="297" dy="20.3">会变黄，水头会变干。</tspan></text></g>
<g id="n8b"><text class="t" x="297" y="3316"><tspan x="297">好的翡翠经常戴在手腕上，祖母绿根会逐渐消</tspan><tspan x="297" dy="20.3">失，棉絮会越来越少，翡翠会越来越亮。有些</tspan><tspan x="297" dy="20.3">翡翠长期佩戴会变黄。这是因为翡翠有好有坏</tspan><tspan x="297" dy="20.3">的特点。它是由翡翠质地的密度和厚度，以及</tspan><tspan x="297" dy="20.3">变化造成的。然而，翡翠品种是天然矿物中常</tspan><tspan x="297" dy="20.3">见的现象。</tspan></text></g>
<g id="n8c"><text class="t" x="297" y="3488"><tspan x="297">年轻的翡翠品种很容易改变。一般从边缘开始</tspan><tspan x="297" dy="20.3">变黄，水头变干。这些现象都是因为翡翠不够</tspan><tspan x="297" dy="20.3">老，所以没有气场。但无论是嫩玉还是老玉，</tspan><tspan x="297" dy="20.3">都要保养好，防止变黄。俗话说"人养玉，玉</tspan><tspan x="297" dy="20.3">养人"。</tspan></text></g>
<g id="n8d"><text class="t" x="297" y="3639"><tspan x="297">首先，一定要避免它碰到硬物。要把翡翠放在</tspan><tspan x="297" dy="20.3">常温下，不要放在高温下。其次，定期清洗翡</tspan><tspan x="297" dy="20.3">翠。清洗时，用清水浸泡半小时，然后用软刷</tspan><tspan x="297" dy="20.3">刷。之后用少量白茶油擦拭，锁住水分。另外</tspan><tspan x="297" dy="20.3">要经常给翡翠打蜡，不要让翡翠接触到酸、碱</tspan><tspan x="297" dy="20.3">等物质。</tspan></text></g>

<g id="n10a"><text class="t" x="286" y="3811"><tspan x="286">翡翠戴久了会在表面形成一层包浆，颜色会变</tspan><tspan x="286" dy="20.3">得更深，油脂感也会更强，看起来比较油润，</tspan><tspan x="286" dy="20.3">若是佩戴人工合成的翡翠时，常戴后会失去原</tspan><tspan x="286" dy="20.3">有的光泽。佩戴翡翠的时间越久，对本身会起</tspan><tspan x="286" dy="20.3">到很好的滋润效果，还有利于人体健康。</tspan></text></g>
<g id="n10b"><text class="t e" x="602" y="4152">翡翠戴久了会比较通透</text></g>
<g id="n10b1"><text class="t" x="76" y="3963"><tspan x="76">翡翠是很多人都喜欢佩戴的玉石之一，一般来</tspan><tspan x="76" dy="20.3">说翡翠戴久了会逐渐变得通透，颜色也会逐渐</tspan><tspan x="76" dy="20.3">加深，看起来会更加明亮，但主要以佩戴天然</tspan><tspan x="76" dy="20.3">的翡翠为主，若是人工合成的翡翠戴久了会逐</tspan><tspan x="76" dy="20.3">渐出现发黑或者发黄的现象。</tspan></text></g>
<g id="n10b2"><text class="t" x="76" y="4111.4"><tspan x="76">长期佩戴天然的翡翠时，翡翠会经常与人体的</tspan><tspan x="76" dy="20.3">皮肤接触，这样会形成天然的打磨效果，时间</tspan><tspan x="76" dy="20.3">久了能让翡翠变得更加润滑，同时翡翠也会得</tspan><tspan x="76" dy="20.3">到身体恒温的滋养，看上去给人一种鲜活的感</tspan><tspan x="76" dy="20.3">觉，有助于提升翡翠的价值。</tspan></text></g>
<g id="n10b3"><text class="t" x="76" y="4266"><tspan x="76">俗话说的好"人养玉、玉养人"，长期佩戴翡翠</tspan><tspan x="76" dy="20.3">不仅能增加翡翠的美观性，还能有利于人体的</tspan><tspan x="76" dy="20.3">健康，常戴后会让人体逐渐吸收翡翠里面的微</tspan><tspan x="76" dy="20.3">量元素，以促进人体的血液循环，从而起到强</tspan><tspan x="76" dy="20.3">身健体的功效。</tspan></text></g>

<g id="watermarks">
<text class="wm" transform="translate(345 700) rotate(-32)">树图 <tspan font-family="'Liberation Serif',serif">shutu.cn</tspan></text>
<text class="wm" transform="translate(345 1705) rotate(-32)">树图 <tspan font-family="'Liberation Serif',serif">shutu.cn</tspan></text>
<text class="wm" transform="translate(345 2710) rotate(-32)">树图 <tspan font-family="'Liberation Serif',serif">shutu.cn</tspan></text>
<text class="wm" transform="translate(345 3715) rotate(-32)">树图 <tspan font-family="'Liberation Serif',serif">shutu.cn</tspan></text>
<text class="wm" transform="translate(345 4720) rotate(-32)">树图 <tspan font-family="'Liberation Serif',serif">shutu.cn</tspan></text>
<text class="wm" transform="translate(1615 700) rotate(-32)">树图 <tspan font-family="'Liberation Serif',serif">shutu.cn</tspan></text>
<text class="wm" transform="translate(1615 1703) rotate(-32)">树图 <tspan font-family="'Liberation Serif',serif">shutu.cn</tspan></text>
<text class="wm" transform="translate(1615 2706) rotate(-32)">树图 <tspan font-family="'Liberation Serif',serif">shutu.cn</tspan></text>
<text class="wm" transform="translate(1615 3709) rotate(-32)">树图 <tspan font-family="'Liberation Serif',serif">shutu.cn</tspan></text>
<text class="wm" transform="translate(1615 4712) rotate(-32)">树图 <tspan font-family="'Liberation Serif',serif">shutu.cn</tspan></text>
</g>
</g>
</svg>
